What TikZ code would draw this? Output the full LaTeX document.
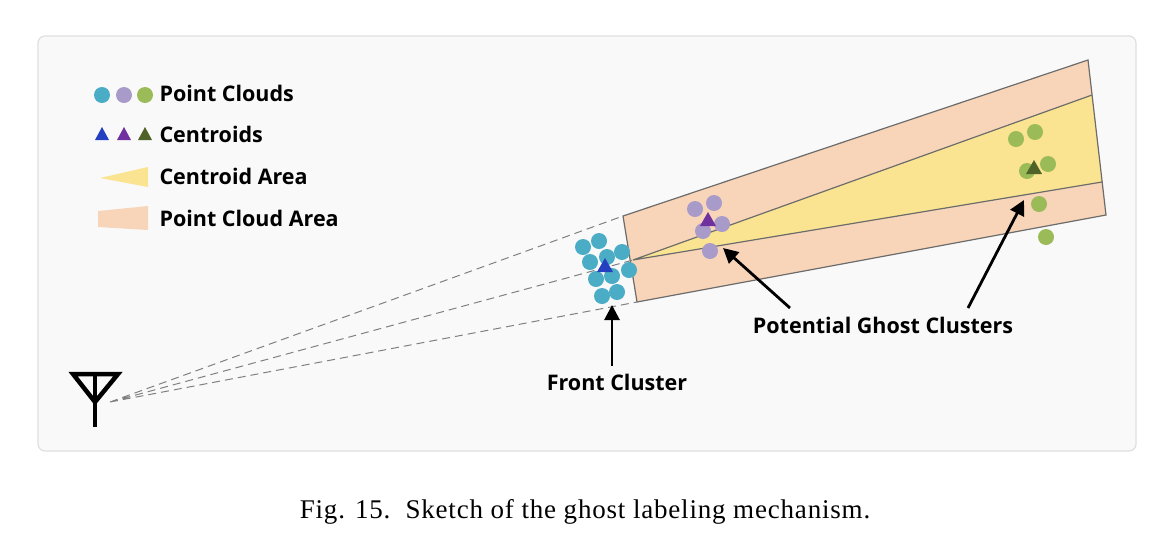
\documentclass[tikz,border=0pt]{standalone}
\usepackage{fontspec}
\newfontfamily\lab{Open Sans}
\newfontfamily\capf{Liberation Serif}[LetterSpace=3]
\usetikzlibrary{arrows.meta}
\definecolor{cb}{HTML}{4BACC6}\definecolor{cp}{HTML}{A99BC9}\definecolor{cg}{HTML}{9BBB59}
\definecolor{tb}{HTML}{2440C0}\definecolor{tp}{HTML}{7030A0}\definecolor{tg}{HTML}{4F6228}
\definecolor{peach}{HTML}{F8D5B8}\definecolor{yel}{HTML}{FBE491}
\begin{document}
\begin{tikzpicture}[x=1pt,y=-1pt,
 dot/.style={circle,fill=#1,minimum size=16pt,inner sep=0pt},
 lbl/.style={font=\lab\bfseries\fontsize{21.5}{24}\selectfont,text=black},
 arr/.style={-{Triangle[length=15pt,width=15pt]},line width=2.8pt},
 raydash/.style={gray,line width=1pt,dash pattern=on 8pt off 5pt}]
\useasboundingbox (0,0) rectangle (1150,547);
\draw[gray!25,fill=gray!5,line width=1.2pt,rounded corners=7pt] (38,36) rectangle (1136,451);
% areas
\coordinate (ant) at (110,402);
\coordinate (A) at (623,216);\coordinate (B) at (1088,60);\coordinate (C) at (1106,215);\coordinate (D) at (637,302);
\coordinate (M) at (633,260);\coordinate (Y1) at (1092,95);\coordinate (Y2) at (1102,182);
\fill[peach] (A)--(B)--(C)--(D)--cycle;
\fill[yel] (M)--(Y1)--(Y2)--cycle;
\draw[gray!85!black,line width=1.2pt] (A)--(B)--(C)--(D)--cycle;
\draw[gray!85!black,line width=1.2pt] (M)--(Y1) (M)--(Y2);
\draw[raydash] (ant)--(A) (ant)--(M) (ant)--(D);
% antenna
\draw[line width=4.5pt] (95,427)--(95,374);
\draw[line width=4.5pt,line join=miter] (95,402)--(73,374)--(118,374)--cycle;
% dots
\foreach \p in {(583,247),(599,241),(622,252),(590,262),(607,257),(629,270),(596,279),(612,276),(602,296),(617,292)} \node[dot=cb] at \p {};
\foreach \p in {(695,209),(714,203),(722,224),(703,231),(710,251)} \node[dot=cp] at \p {};
\foreach \p in {(1016,139),(1035,132),(1027,171),(1048,164),(1039,204),(1046,237)} \node[dot=cg] at \p {};
\fill[tb] (605,258)--(613,272)--(597,272)--cycle;
\fill[tp] (708,212)--(716,226)--(700,226)--cycle;
\fill[tg] (1034,160)--(1042,174)--(1026,174)--cycle;
% legend
\node[dot=cb] at (102,95) {};\node[dot=cp] at (124,95) {};\node[dot=cg] at (145,95) {};
\node[lbl,anchor=west] at (156,93) {Point Clouds};
\fill[tb] (102,127)--(109,140)--(95,140)--cycle;
\fill[tp] (124,127)--(131,140)--(117,140)--cycle;
\fill[tg] (145,127)--(152,140)--(138,140)--cycle;
\node[lbl,anchor=west] at (156,134) {Centroids};
\fill[yel] (100,178)--(148,167)--(148,187)--cycle;
\node[lbl,anchor=west] at (156,176) {Centroid Area};
\fill[peach] (98,211)--(148,206)--(148,230)--(98,227)--cycle;
\node[lbl,anchor=west] at (156,218) {Point Cloud Area};
% labels & arrows
\node[lbl] (fc) at (617,382) {Front Cluster};
\node[lbl] (pg) at (883,325) {Potential Ghost Clusters};
\coordinate (f1) at (612,366);\coordinate (f2) at (612,305);
\draw[arr] (f1)--(f2);
\coordinate (g1) at (790,308);\coordinate (g2) at (723,248);
\coordinate (h1) at (968,308);\coordinate (h2) at (1024,200);
\draw[arr] (g1)--(g2);\draw[arr] (h1)--(h2);
\node[font=\capf\fontsize{27}{30}\selectfont] (cap) at (585,512) {Fig. 15.\ \ Sketch of the ghost labeling mechanism.};
\end{tikzpicture}
\end{document}
